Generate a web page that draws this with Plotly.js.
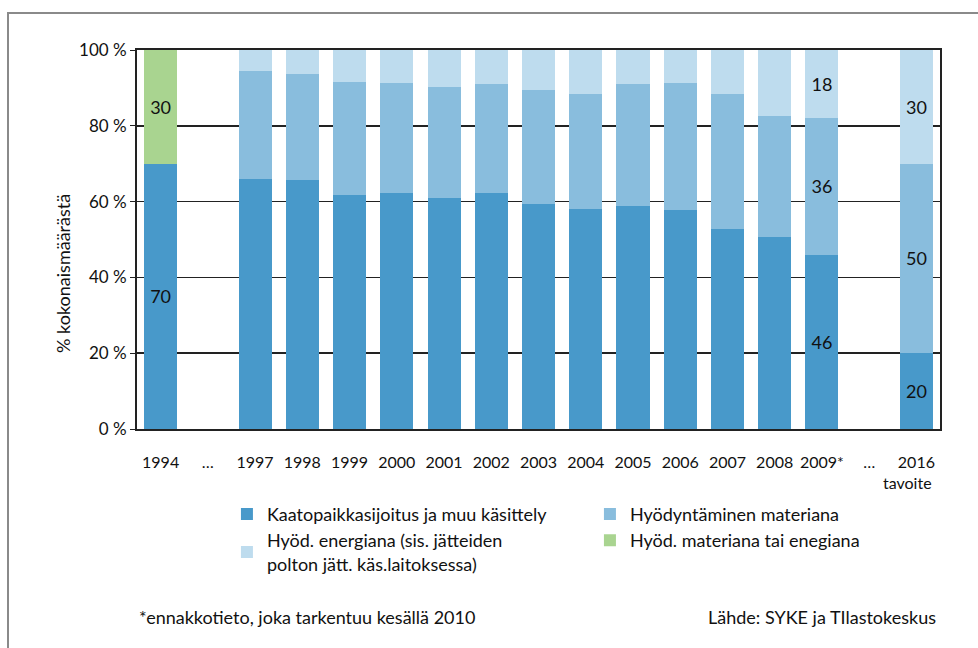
<!DOCTYPE html>
<html>
<head>
<meta charset="utf-8">
<script src="https://cdn.plot.ly/plotly-3.0.1.min.js"></script>
<style>
  html, body { margin: 0; padding: 0; background: #fff; }
  #wrap { position: relative; width: 978px; height: 648px; overflow: hidden; }
  #chart { width: 978px; height: 648px; }
  #frame { position: absolute; left: 7px; top: 12px; width: 1000px; height: 700px;
           border-top: 2px solid #8a8a8a; border-left: 2px solid #8a8a8a; pointer-events: none; }
</style>
</head>
<body>
<div id="wrap">
  <div id="chart"></div>
  <div id="frame"></div>
</div>
<script>
// ---- data ----
const categories = ['1994', 'gap1', '1997', '1998', '1999', '2000', '2001', '2002', '2003',
                    '2004', '2005', '2006', '2007', '2008', '2009', 'gap2', '2016'];
const tickLabels = ['1994', '…', '1997', '1998', '1999', '2000', '2001', '2002', '2003',
                    '2004', '2005', '2006', '2007', '2008', '2009*', '…', '2016'];
const landfill  = [70, null, 66, 65.6, 61.7, 62.4, 61, 62.3, 59.5, 58, 58.9, 57.9, 52.8, 50.7, 46, null, 20];
const material  = [null, null, 28.5, 28.2, 29.9, 29, 29.3, 28.6, 29.9, 30.4, 32, 33.5, 35.6, 31.9, 36, null, 50];
const energy    = [null, null, 5.5, 6.2, 8.4, 8.6, 9.7, 9.1, 10.6, 11.6, 9.1, 8.6, 11.6, 17.4, 18, null, 30];
const matOrEnergy = [30, null, null, null, null, null, null, null, null, null, null, null, null, null, null, null, null];
const labelledCategories = ['1994', '2009', '2016'];
const targetCategory = '2016';
const seriesNames = [
  'Kaatopaikkasijoitus ja muu käsittely',
  'Hyödyntäminen materiana',
  'Hyöd. energiana (sis. jätteiden<br>polton jätt. käs.laitoksessa)',
  'Hyöd. materiana tai enegiana'
];
const colors = ['#4899CA', '#89BDDD', '#BEDCEE', '#A9D490'];

function labels(vals) {
  return vals.map((v, i) => (v !== null && labelledCategories.includes(categories[i])) ? String(v) : '');
}

const FONT = 'Lato, "Open Sans", sans-serif';
const series = [landfill, material, energy, matOrEnergy];
const traces = series.map((vals, k) => ({
  type: 'bar',
  x: categories,
  y: vals,
  name: seriesNames[k],
  marker: { color: colors[k], line: { width: 0 } },
  text: labels(vals),
  textposition: 'inside',
  insidetextanchor: 'middle',
  textfont: { family: FONT, size: 18, color: '#111' },
  hoverinfo: 'x+y+name'
}));

const nCat = categories.length;
const layout = {
  width: 978,
  height: 648,
  paper_bgcolor: '#fff',
  plot_bgcolor: '#fff',
  barmode: 'stack',
  bargap: 0.3,
  margin: { l: 137, r: 38, t: 50, b: 219 },
  font: { family: FONT, size: 16, color: '#111' },
  showlegend: true,
  legend: {
    orientation: 'h',
    x: 0.112, xanchor: 'left',
    y: -0.176, yanchor: 'top',
    entrywidth: 318,
    traceorder: 'normal',
    valign: 'middle',
    font: { family: FONT, size: 18, color: '#111' },
    itemwidth: 30
  },
  xaxis: {
    type: 'category',
    categoryorder: 'array',
    categoryarray: categories,
    range: [-0.5, nCat - 0.5],
    autorange: false,
    tickmode: 'array',
    tickvals: categories,
    ticktext: tickLabels,
    ticks: '',
    ticklabelstandoff: 18,
    showline: true,
    linecolor: '#222',
    linewidth: 2,
    mirror: true,
    showgrid: false,
    tickfont: { family: FONT, size: 16, color: '#111' },
    fixedrange: true
  },
  yaxis: {
    range: [0, 100],
    autorange: false,
    dtick: 20,
    ticksuffix: ' %',
    ticks: 'outside',
    ticklen: 5,
    tickcolor: '#222',
    showline: true,
    linecolor: '#222',
    linewidth: 2,
    mirror: true,
    showgrid: true,
    gridcolor: '#222',
    gridwidth: 1.5,
    zeroline: false,
    tickfont: { family: FONT, size: 17, color: '#111' },
    fixedrange: true
  },
  annotations: [
    {
      text: '% kokonaismäärästä',
      xref: 'paper', yref: 'paper',
      x: -0.093, xanchor: 'center',
      y: 0.41, yanchor: 'middle',
      textangle: -90,
      showarrow: false,
      font: { family: FONT, size: 18, color: '#111' }
    },
    {
      text: 'tavoite',
      xref: 'x', yref: 'paper',
      x: categories.indexOf(targetCategory), xanchor: 'right', xshift: 18,
      y: -0.142, yanchor: 'middle',
      showarrow: false,
      font: { family: FONT, size: 16, color: '#111' }
    },
    {
      text: '*ennakkotieto, joka tarkentuu kesällä 2010',
      xref: 'paper', yref: 'paper',
      x: 0, xanchor: 'left',
      y: -0.496, yanchor: 'middle',
      showarrow: false,
      font: { family: FONT, size: 18, color: '#111' }
    },
    {
      text: 'Lähde: SYKE ja TIlastokeskus',
      xref: 'paper', yref: 'paper',
      x: 0.9975, xanchor: 'right',
      y: -0.496, yanchor: 'middle',
      showarrow: false,
      font: { family: FONT, size: 18, color: '#111' }
    }
  ]
};

Plotly.newPlot('chart', traces, layout, { displayModeBar: false, staticPlot: true });
</script>
</body>
</html>
